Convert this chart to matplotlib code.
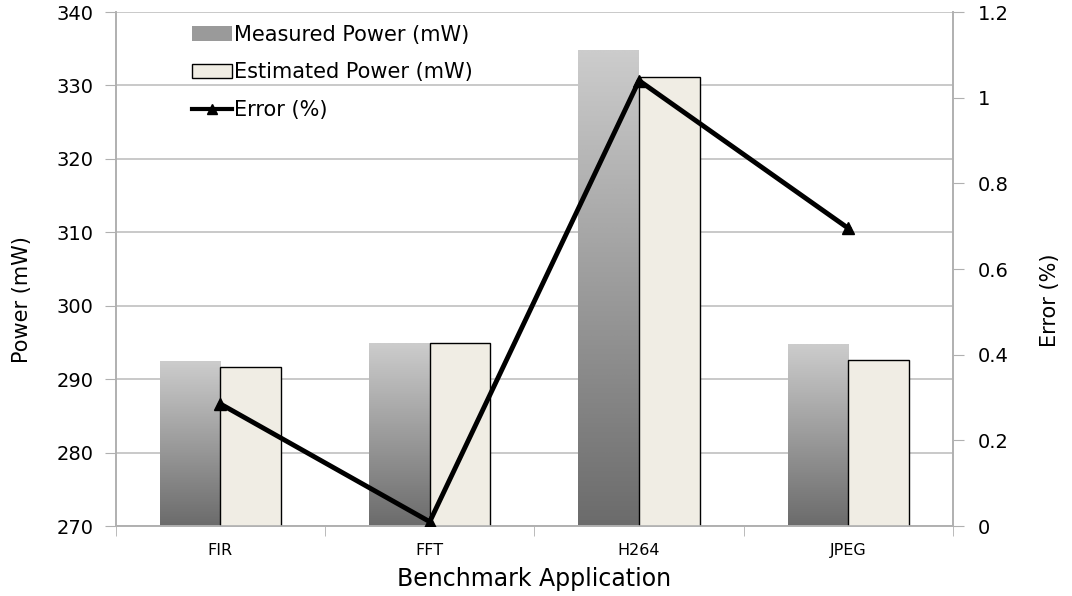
import matplotlib.pyplot as plt
import numpy as np
from matplotlib.patches import Patch
from matplotlib.lines import Line2D

plt.rcParams['font.family'] = ['DejaVu Sans']

apps = ['FIR', 'FFT', 'H264', 'JPEG']
measured = [292.4, 294.9, 334.7, 294.7]
estimated = [291.7, 294.9, 331.2, 292.6]
error = [0.285, 0.01, 1.04, 0.695]

fig = plt.figure(figsize=(10.72, 5.96), dpi=100)
ax = fig.add_axes([0.108, 0.1174, 0.781, 0.8624])
ax2 = ax.twinx()

x = np.arange(len(apps))
w = 0.29
ymin, ymax = 270, 340

mbars = ax.bar(x - w / 2, measured, w, color='none', edgecolor='none', zorder=2)
ebars = ax.bar(x + w / 2, estimated, w, color='#f0ede4', edgecolor='black',
               linewidth=1, zorder=3)

# vertical gradient fill for the measured bars (dark at bottom, light at top)
grad = np.linspace(0.42, 0.80, 256).reshape(-1, 1)
for b in mbars:
    x0 = b.get_x()
    x1 = x0 + b.get_width()
    ax.imshow(grad, extent=[x0, x1, ymin, b.get_height()], origin='lower',
              cmap='gray', vmin=0, vmax=1, aspect='auto', zorder=2,
              interpolation='bicubic')

ax.set_xlim(-0.5, len(apps) - 0.5)
ax.set_ylim(ymin, ymax)
ax.set_yticks(range(270, 341, 10))
ax.set_xticks(x)
ax.set_xticklabels(apps, fontsize=11.5)
ax.set_xticks(np.arange(-0.5, len(apps), 1), minor=True)
ax.tick_params(axis='x', which='major', length=0, pad=12)
ax.tick_params(axis='x', which='minor', length=7, color='#b0b0b0')
ax.tick_params(axis='y', labelsize=14, length=8, color='#b0b0b0', pad=8)
ax.yaxis.grid(True, color='#c0c0c0', linewidth=1.2)
ax.set_axisbelow(True)
ax.set_xlabel('Benchmark Application', fontsize=17, labelpad=7)
ax.set_ylabel('Power (mW)', fontsize=15)
ax.yaxis.set_label_coords(-0.100, 0.44)

ax2.plot(x, error, color='black', linewidth=3.5, marker='^', markersize=8, zorder=5)
ax2.set_ylim(0, 1.2)
ax2.set_yticks([0, 0.2, 0.4, 0.6, 0.8, 1, 1.2])
ax2.set_yticklabels(['0', '0.2', '0.4', '0.6', '0.8', '1', '1.2'])
ax2.tick_params(axis='y', labelsize=14, length=8, color='#b0b0b0', pad=10)
ax2.set_ylabel('Error (%)', fontsize=15)
ax2.yaxis.set_label_coords(1.104, 0.44)

for a in (ax, ax2):
    a.spines['top'].set_visible(False)
    for s in ('left', 'right', 'bottom'):
        a.spines[s].set_color('#b0b0b0')
        a.spines[s].set_linewidth(1.2)

handles = [Patch(facecolor='#9a9a9a', edgecolor='none'),
           Patch(facecolor='#f0ede4', edgecolor='black', linewidth=1),
           Line2D([], [], color='black', linewidth=3, marker='^', markersize=7)]
labels = ['Measured Power (mW)', 'Estimated Power (mW)', 'Error (%)']
fig.legend(handles, labels, loc='upper left', bbox_to_anchor=(0.162, 0.99),
           frameon=False, fontsize=15, handlelength=1.9, handletextpad=0.1,
           labelspacing=0.85)

fig.savefig('out.png', dpi=100)
